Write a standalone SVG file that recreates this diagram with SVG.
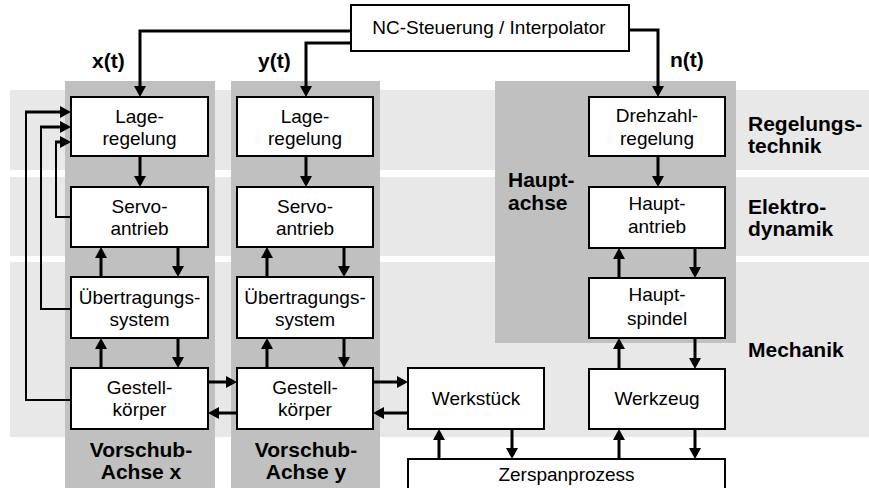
<svg xmlns="http://www.w3.org/2000/svg" width="869" height="488" viewBox="0 0 869 488">
  <style>
    .band { fill: #e8e8e8; }
    .col { fill: #c0c0c0; }
    .box { fill: #ffffff; stroke: #000000; stroke-width: 2; }
    .t { font-family: "Liberation Sans", Arial, sans-serif; font-size: 19px; fill: #000000; text-anchor: middle; }
    .b { font-family: "Liberation Sans", Arial, sans-serif; font-size: 21px; font-weight: bold; fill: #000000; }
    .bc { text-anchor: middle; }
    .w { fill: none; stroke: #000000; stroke-width: 3; }
    .fb { fill: none; stroke: #000000; stroke-width: 2; }
  </style>
  <defs>
    <marker id="arrow" markerUnits="userSpaceOnUse" markerWidth="12" markerHeight="12" refX="6" refY="6" orient="auto">
      <path d="M0,0 L11,6 L0,12 z" fill="#000000"/>
    </marker>
  </defs>

  <!-- horizontal domain bands -->
  <g id="bands">
    <rect class="band" x="10" y="90" width="859" height="80"/>
    <rect class="band" x="10" y="177" width="859" height="79"/>
    <rect class="band" x="10" y="262" width="859" height="175"/>
  </g>

  <!-- axis columns -->
  <g id="columns">
    <rect class="col" x="65" y="81" width="150" height="407"/>
    <rect class="col" x="231" y="81" width="149" height="407"/>
    <rect class="col" x="495" y="81" width="241" height="262"/>
  </g>

  <!-- domain and axis labels -->
  <g id="labels">
    <text class="b" x="92" y="68">x(t)</text>
    <text class="b" x="258" y="68">y(t)</text>
    <text class="b" x="670" y="67">n(t)</text>
    <text class="b" x="748" y="131">Regelungs-</text>
    <text class="b" x="748" y="153">technik</text>
    <text class="b" x="748" y="214">Elektro-</text>
    <text class="b" x="748" y="236">dynamik</text>
    <text class="b" x="748" y="357">Mechanik</text>
    <text class="b" x="508" y="187">Haupt-</text>
    <text class="b" x="508" y="210">achse</text>
    <text class="b bc" x="141" y="457">Vorschub-</text>
    <text class="b bc" x="141" y="479">Achse x</text>
    <text class="b bc" x="306" y="457">Vorschub-</text>
    <text class="b bc" x="306" y="479">Achse y</text>
  </g>

  <!-- nodes -->
  <g id="nc">
    <rect class="box" x="351" y="5" width="278" height="46"/>
    <text class="t" x="489" y="34">NC-Steuerung / Interpolator</text>
  </g>

  <g id="lage-x">
    <rect class="box" x="71" y="97" width="137" height="59"/>
    <text class="t" x="139.5" y="123">Lage-</text>
    <text class="t" x="139.5" y="145">regelung</text>
  </g>
  <g id="servo-x">
    <rect class="box" x="71" y="187" width="137" height="60"/>
    <text class="t" x="139.5" y="213">Servo-</text>
    <text class="t" x="139.5" y="235">antrieb</text>
  </g>
  <g id="uebertragung-x">
    <rect class="box" x="71" y="277" width="137" height="61"/>
    <text class="t" x="139.5" y="304">Übertragungs-</text>
    <text class="t" x="139.5" y="326">system</text>
  </g>
  <g id="gestell-x">
    <rect class="box" x="71" y="368" width="137" height="61"/>
    <text class="t" x="139.5" y="394">Gestell-</text>
    <text class="t" x="139.5" y="416">körper</text>
  </g>

  <g id="lage-y">
    <rect class="box" x="237" y="97" width="136" height="59"/>
    <text class="t" x="305" y="123">Lage-</text>
    <text class="t" x="305" y="145">regelung</text>
  </g>
  <g id="servo-y">
    <rect class="box" x="237" y="187" width="136" height="60"/>
    <text class="t" x="305" y="213">Servo-</text>
    <text class="t" x="305" y="235">antrieb</text>
  </g>
  <g id="uebertragung-y">
    <rect class="box" x="237" y="277" width="136" height="61"/>
    <text class="t" x="305" y="304">Übertragungs-</text>
    <text class="t" x="305" y="326">system</text>
  </g>
  <g id="gestell-y">
    <rect class="box" x="237" y="368" width="136" height="61"/>
    <text class="t" x="305" y="394">Gestell-</text>
    <text class="t" x="305" y="416">körper</text>
  </g>

  <g id="drehzahl">
    <rect class="box" x="589" y="97" width="136" height="59"/>
    <text class="t" x="657" y="122">Drehzahl-</text>
    <text class="t" x="657" y="145">regelung</text>
  </g>
  <g id="hauptantrieb">
    <rect class="box" x="589" y="187" width="136" height="61"/>
    <text class="t" x="657" y="210">Haupt-</text>
    <text class="t" x="657" y="233">antrieb</text>
  </g>
  <g id="hauptspindel">
    <rect class="box" x="589" y="278" width="136" height="60"/>
    <text class="t" x="657" y="301">Haupt-</text>
    <text class="t" x="657" y="325">spindel</text>
  </g>
  <g id="werkzeug">
    <rect class="box" x="589" y="369" width="136" height="60"/>
    <text class="t" x="657" y="405">Werkzeug</text>
  </g>
  <g id="werkstueck">
    <rect class="box" x="408" y="368" width="136" height="61"/>
    <text class="t" x="476" y="405">Werkstück</text>
  </g>
  <g id="zerspanprozess">
    <rect class="box" x="408" y="459" width="317" height="40"/>
    <text class="t" x="566.5" y="481">Zerspanprozess</text>
  </g>

  <!-- connectors -->
  <g id="connectors">
    <!-- setpoints from the NC -->
    <path class="w" d="M351,31 H140 V92" marker-end="url(#arrow)"/>
    <path class="w" d="M351,43 H306 V92" marker-end="url(#arrow)"/>
    <path class="w" d="M629,30 H658 V92" marker-end="url(#arrow)"/>

    <!-- feed axis x -->
    <path class="w" d="M140,156 V182" marker-end="url(#arrow)"/>
    <path class="w" d="M178,247 V272" marker-end="url(#arrow)"/>
    <path class="w" d="M101,277 V252" marker-end="url(#arrow)"/>
    <path class="w" d="M178,338 V363" marker-end="url(#arrow)"/>
    <path class="w" d="M101,368 V343" marker-end="url(#arrow)"/>

    <!-- feed axis y -->
    <path class="w" d="M306,156 V182" marker-end="url(#arrow)"/>
    <path class="w" d="M344,247 V272" marker-end="url(#arrow)"/>
    <path class="w" d="M267,277 V252" marker-end="url(#arrow)"/>
    <path class="w" d="M344,338 V363" marker-end="url(#arrow)"/>
    <path class="w" d="M267,368 V343" marker-end="url(#arrow)"/>

    <!-- frame coupling and workpiece -->
    <path class="w" d="M208,382 H232" marker-end="url(#arrow)"/>
    <path class="w" d="M237,413 H213" marker-end="url(#arrow)"/>
    <path class="w" d="M373,382 H403" marker-end="url(#arrow)"/>
    <path class="w" d="M408,413 H378" marker-end="url(#arrow)"/>

    <!-- cutting process -->
    <path class="w" d="M439,459 V434" marker-end="url(#arrow)"/>
    <path class="w" d="M512,429 V454" marker-end="url(#arrow)"/>
    <path class="w" d="M619,459 V434" marker-end="url(#arrow)"/>
    <path class="w" d="M695,429 V454" marker-end="url(#arrow)"/>

    <!-- main axis -->
    <path class="w" d="M658,156 V182" marker-end="url(#arrow)"/>
    <path class="w" d="M695,248 V273" marker-end="url(#arrow)"/>
    <path class="w" d="M619,278 V253" marker-end="url(#arrow)"/>
    <path class="w" d="M695,338 V364" marker-end="url(#arrow)"/>
    <path class="w" d="M619,369 V343" marker-end="url(#arrow)"/>

    <!-- feedback loops into position control -->
    <path class="fb" d="M71,400 H26 V112"/>
    <path class="w" d="M25,112 H66" marker-end="url(#arrow)"/>
    <path class="fb" d="M71,309 H41 V127"/>
    <path class="w" d="M40,127 H66" marker-end="url(#arrow)"/>
    <path class="fb" d="M71,217 H56 V142"/>
    <path class="w" d="M55,142 H66" marker-end="url(#arrow)"/>
  </g>
</svg>
